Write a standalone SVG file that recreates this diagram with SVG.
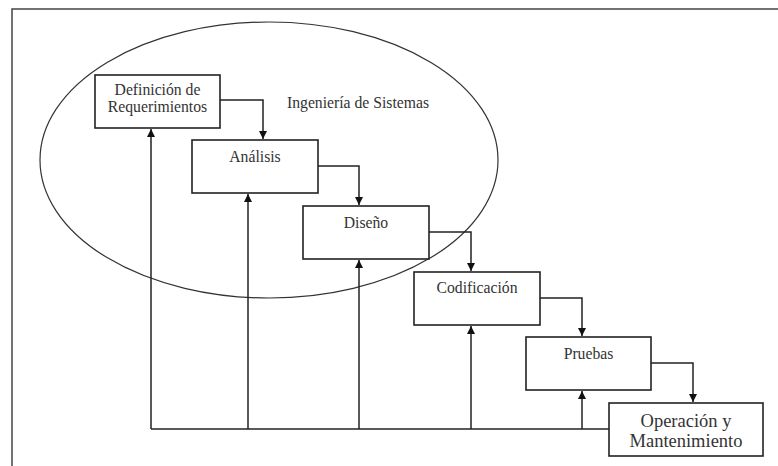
<svg xmlns="http://www.w3.org/2000/svg" width="778" height="466" viewBox="0 0 778 466">
<style>
.box{fill:#fff;stroke:#222;stroke-width:1.6}
.t{font-family:"Liberation Serif","Times New Roman",serif;font-size:15.7px;fill:#333;text-anchor:middle}
.big{font-size:18.5px}
.c{fill:none;stroke:#222;stroke-width:1.5}
</style>
<defs>
<marker id="ah" markerWidth="9" markerHeight="9" refX="8" refY="4" orient="auto" markerUnits="userSpaceOnUse">
<path d="M0,0 L8,4 L0,8 Z" fill="#111"/>
</marker>
</defs>
<rect width="778" height="466" fill="#fff"/>
<g id="frame" fill="none" stroke="#444" stroke-width="1.5">
<path d="M12,466 V9 H778"/>
</g>
<g id="ingenieria">
<ellipse cx="269" cy="160" rx="229" ry="138" fill="none" stroke="#333" stroke-width="1.2"/>
<text class="t" x="287" y="108" style="text-anchor:start">Ingeniería de Sistemas</text>
</g>
<g id="connectors">
<path class="c" d="M220,100 H263 V139" marker-end="url(#ah)"/>
<path class="c" d="M318,166 H359 V205" marker-end="url(#ah)"/>
<path class="c" d="M429,232 H471 V271" marker-end="url(#ah)"/>
<path class="c" d="M540,298 H582 V336" marker-end="url(#ah)"/>
<path class="c" d="M651,363 H693 V402" marker-end="url(#ah)"/>
<path class="c" d="M609,429 H151"/>
<path class="c" d="M151,429 V129" marker-end="url(#ah)"/>
<path class="c" d="M248,429 V194" marker-end="url(#ah)"/>
<path class="c" d="M359,429 V260" marker-end="url(#ah)"/>
<path class="c" d="M471,429 V326" marker-end="url(#ah)"/>
<path class="c" d="M582,429 V391" marker-end="url(#ah)"/>
</g>
<g id="definicion">
<rect class="box" x="95" y="75" width="125" height="53"/>
<text class="t" x="157.5" y="95">Definición de</text>
<text class="t" x="157.5" y="112">Requerimientos</text>
</g>
<g id="analisis">
<rect class="box" x="192" y="140" width="126" height="53"/>
<text class="t" x="255" y="162">Análisis</text>
</g>
<g id="diseno">
<rect class="box" x="303" y="206" width="126" height="53"/>
<text class="t" x="366" y="228">Diseño</text>
</g>
<g id="codificacion">
<rect class="box" x="414" y="272" width="126" height="53"/>
<text class="t" x="477" y="293">Codificación</text>
</g>
<g id="pruebas">
<rect class="box" x="526" y="337" width="125" height="53"/>
<text class="t" x="588.5" y="359">Pruebas</text>
</g>
<g id="operacion">
<rect class="box" x="609" y="403" width="154" height="53"/>
<text class="t big" x="686" y="427">Operación y</text>
<text class="t big" x="686" y="447">Mantenimiento</text>
</g>
</svg>
